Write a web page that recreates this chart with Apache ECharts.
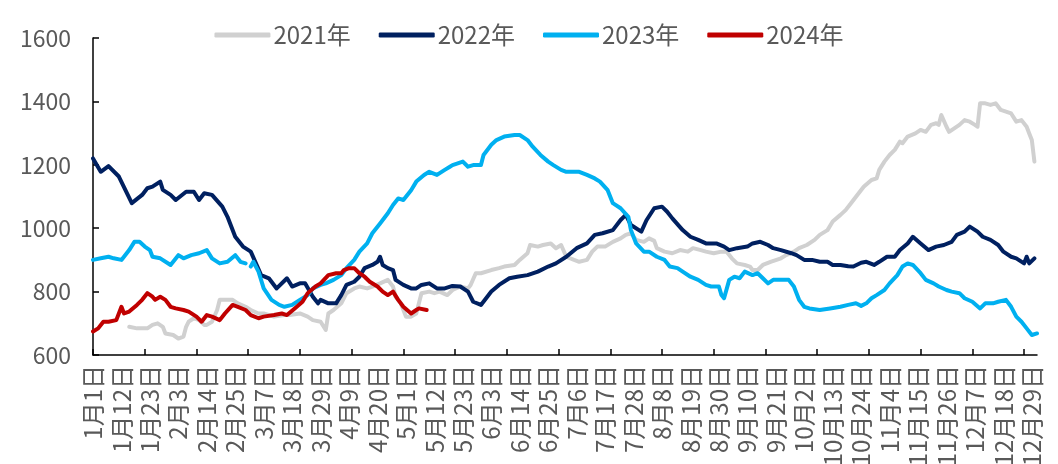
<!DOCTYPE html>
<html>
<head>
<meta charset="utf-8">
<script src="https://cdn.jsdelivr.net/npm/echarts@6/dist/echarts.min.js"></script>
<style>
  html, body { margin: 0; padding: 0; background: #fff; }
  #chart { width: 1058px; height: 464px; }
</style>
</head>
<body>
<div id="chart"></div>
<script>
// Calendar used for the day axis (leap year, so 2月29日 exists)
const monthDays = [31, 29, 31, 30, 31, 30, 31, 31, 30, 31, 30, 31];

const seriesNames = ['2021年', '2022年', '2023年', '2024年'];
const seriesColors = ['#D0D0D0', '#002060', '#00B0F0', '#C00000'];

// [day index from 1月1日, value]
const s2021 = [
  [14,689],[17,684],[21,684],[23,695],[25,700],[27,689],[28,668],[31,663],[33,652],[35,658],
  [36,689],[37,705],[39,716],[41,710],[43,695],[44,695],[46,705],[48,742],[49,774],[51,774],
  [54,774],[56,763],[59,752],[61,742],[64,731],[66,731],[70,721],[74,726],[76,726],[80,731],
  [83,721],[85,710],[88,705],[90,679],[91,731],[93,742],[96,763],[98,795],[101,810],[103,816],
  [106,810],[108,816],[111,826],[114,837],[116,816],[117,784],[119,763],[121,721],[123,721],[125,731],
  [127,795],[130,800],[132,795],[134,800],[137,789],[139,805],[142,816],[145,810],[146,821],[148,858],
  [150,858],[154,868],[157,874],[159,879],[163,884],[165,900],[168,921],[169,947],[172,942],[174,947],
  [177,952],[179,937],[181,947],[183,910],[186,900],[188,894],[191,900],[193,926],[195,942],[198,942],
  [201,957],[204,968],[206,979],[208,984],[210,963],[213,957],[215,968],[217,960],[218,937],[221,926],
  [224,921],[227,931],[230,926],[232,937],[235,931],[237,926],[240,921],[243,926],[245,926],[247,905],
  [249,889],[252,884],[254,879],[255,868],[257,868],[259,884],[262,894],[266,905],[268,915],[271,926],
  [273,937],[276,947],[279,963],[281,979],[284,994],[286,1021],[289,1042],[291,1057],[293,1078],[295,1099],
  [298,1131],[301,1152],[303,1157],[304,1184],[306,1210],[308,1231],[310,1247],[312,1273],[313,1268],[315,1289],
  [318,1299],[320,1310],[322,1304],[324,1326],[326,1331],[327,1326],[328,1357],[330,1320],[331,1304],[333,1315],
  [335,1326],[337,1341],[339,1336],[341,1326],[342,1320],[343,1394],[345,1394],[347,1389],[349,1394],[351,1373],
  [353,1368],[355,1362],[357,1336],[359,1341],[361,1320],[362,1299],[363,1278],[364,1210]
];

const s2022 = [
  [0,1220],[3,1178],[6,1196],[10,1163],[15,1079],[19,1105],[21,1126],[23,1131],[26,1147],[27,1121],
  [30,1105],[32,1089],[36,1115],[39,1115],[41,1089],[43,1110],[46,1105],[50,1068],[52,1036],[55,973],
  [58,942],[61,926],[63,889],[65,852],[68,842],[71,810],[75,842],[77,816],[80,826],[82,826],
  [85,784],[87,763],[88,774],[91,763],[94,763],[96,789],[98,821],[101,831],[103,847],[105,874],
  [108,884],[110,894],[111,910],[112,884],[114,874],[116,868],[117,837],[120,821],[123,810],[125,810],
  [127,821],[130,826],[133,810],[136,810],[139,818],[142,816],[145,800],[147,768],[150,758],[154,800],
  [157,821],[161,842],[164,847],[168,852],[172,863],[176,879],[179,889],[183,910],[187,937],[191,952],
  [194,979],[197,984],[201,994],[204,1026],[206,1042],[208,1010],[212,989],[214,1025],[217,1063],[220,1068],
  [222,1052],[224,1031],[228,994],[231,973],[234,963],[237,952],[241,952],[244,942],[246,931],[249,937],
  [253,942],[255,952],[258,957],[261,947],[263,937],[266,931],[270,921],[272,915],[275,900],[278,900],
  [281,894],[284,894],[286,884],[289,884],[292,880],[294,879],[297,891],[299,894],[302,884],[304,894],
  [307,910],[310,910],[312,931],[315,952],[317,973],[320,952],[323,931],[326,942],[329,947],[332,957],
  [334,979],[337,989],[339,1005],[342,989],[344,973],[347,963],[350,947],[352,926],[355,910],[357,905],
  [360,889],[361,910],[362,889],[364,905]
];

const s2023 = [
  [0,900],[3,905],[6,910],[8,905],[11,900],[14,931],[16,957],[18,957],[20,942],[22,931],
  [23,910],[26,905],[30,884],[33,915],[35,905],[38,915],[41,921],[44,931],[46,905],[49,889],
  [52,894],[55,915],[57,894],[59,889],[60,null],[61,879],[62,894],[64,863],[66,810],[69,774],
  [72,758],[74,752],[77,758],[80,774],[83,789],[85,810],[88,821],[90,826],[93,837],[96,852],
  [98,874],[101,900],[103,926],[106,952],[108,984],[111,1015],[114,1047],[116,1073],[118,1094],[120,1089],
  [123,1120],[125,1147],[128,1168],[130,1178],[133,1168],[136,1184],[138,1194],[139,1199],[143,1210],[145,1194],
  [147,1199],[150,1199],[151,1231],[154,1263],[156,1278],[159,1289],[163,1294],[165,1294],[168,1278],[170,1257],
  [173,1231],[176,1210],[178,1199],[181,1184],[183,1178],[186,1178],[188,1178],[191,1168],[194,1157],[196,1147],
  [199,1120],[201,1079],[204,1063],[207,1036],[208,994],[210,952],[213,926],[215,926],[218,910],[221,900],
  [223,879],[226,874],[228,863],[231,847],[234,837],[237,821],[239,816],[242,816],[243,789],[244,779],
  [246,837],[248,847],[250,842],[252,863],[255,852],[257,858],[259,842],[261,826],[263,837],[266,837],
  [269,837],[271,816],[273,774],[275,752],[277,747],[281,742],[285,747],[289,752],[292,758],[295,763],
  [297,755],[299,763],[301,779],[303,789],[306,805],[308,826],[311,852],[313,879],[315,889],[317,884],
  [320,858],[322,837],[325,826],[327,816],[330,805],[332,800],[335,795],[337,779],[340,768],[343,747],
  [345,763],[348,763],[350,768],[353,774],[355,752],[357,721],[359,705],[361,684],[363,663],[365,668]
];

const s2024 = [
  [0,674],[2,684],[4,705],[6,705],[9,710],[11,752],[12,731],[14,737],[17,758],[19,774],
  [21,795],[23,784],[24,774],[26,784],[28,774],[30,752],[32,747],[35,742],[37,737],[40,721],
  [42,705],[44,726],[46,721],[49,710],[51,731],[54,758],[56,752],[59,742],[61,726],[64,716],
  [66,721],[70,726],[73,731],[75,726],[78,747],[81,768],[83,795],[86,816],[88,826],[91,852],
  [94,858],[96,858],[97,868],[99,874],[101,874],[103,858],[105,847],[107,831],[110,816],[112,800],
  [114,789],[116,800],[118,774],[120,752],[123,731],[125,742],[126,747],[129,742]
];

const seriesData = [s2021, s2022, s2023, s2024];

// Day labels 1月1日 … 12月31日
const dayLabels = [];
monthDays.forEach((n, m) => {
  for (let d = 1; d <= n; d++) dayLabels.push((m + 1) + '月' + d + '日');
});

const FONT = '"Noto Sans CJK SC", "Noto Sans", sans-serif';
const TEXT = '#595959';

const chart = echarts.init(document.getElementById('chart'), null, { renderer: 'canvas' });

chart.setOption({
  animation: false,
  backgroundColor: '#ffffff',
  textStyle: { fontFamily: FONT },
  legend: {
    top: 18,
    left: 'center',
    itemWidth: 56,
    itemHeight: 5,
    itemGap: 28,
    icon: 'roundRect',
    textStyle: { fontSize: 24, color: TEXT, fontFamily: FONT, padding: [0, 0, 0, -2] },
    data: seriesNames
  },
  grid: {
    left: 93, right: 21, top: 38, bottom: 109,
    containLabel: false,
    outerBoundsMode: 'none'
  },
  xAxis: {
    type: 'category',
    data: dayLabels,
    boundaryGap: false,
    axisLine: { lineStyle: { color: '#000', width: 1.5 } },
    axisTick: { inside: true, interval: 19, length: 6, lineStyle: { color: '#000', width: 1.5 } },
    axisLabel: {
      interval: 10,
      rotate: 90,
      margin: 10,
      fontSize: 24,
      color: TEXT,
      fontFamily: FONT
    },
    splitLine: { show: false }
  },
  yAxis: {
    type: 'value',
    min: 600,
    max: 1600,
    interval: 200,
    axisLine: { show: true, lineStyle: { color: '#000', width: 1.5 } },
    axisTick: { show: true, inside: true, length: 6, lineStyle: { color: '#000', width: 1.5 } },
    axisLabel: {
      fontSize: 23,
      color: TEXT,
      margin: 22,
      fontFamily: FONT,
      formatter: v => String(v)
    },
    splitLine: { show: false }
  },
  series: seriesData.map((d, i) => ({
    name: seriesNames[i],
    type: 'line',
    data: d,
    showSymbol: false,
    symbol: 'none',
    connectNulls: false,
    color: seriesColors[i],
    lineStyle: { width: 4, color: seriesColors[i], cap: 'round', join: 'round' },
    z: 2 + i
  }))
});
</script>
</body>
</html>
